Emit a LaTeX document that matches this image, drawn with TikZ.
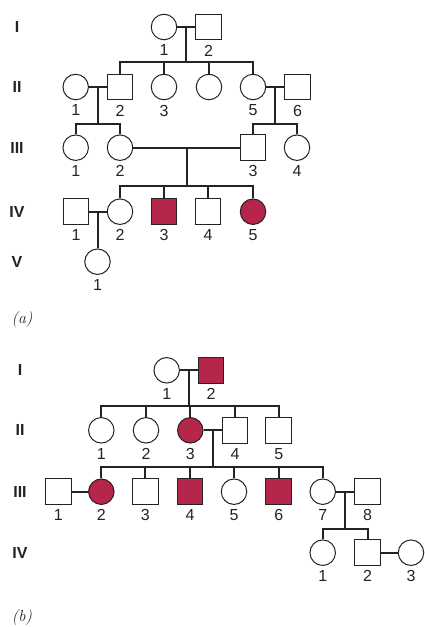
\documentclass[tikz,border=0pt]{standalone}
\usepackage{fontspec}
\setsansfont{Liberation Sans}
\usepackage{tikz}
\usetikzlibrary{calc}
\usetikzlibrary{positioning}
\definecolor{affect}{RGB}{181,38,74}
\definecolor{ink}{RGB}{38,34,35}
\begin{document}
\begin{tikzpicture}[x=1pt,y=-1pt,
  every node/.style={inner sep=0pt,text=ink,font=\sffamily\fontsize{16}{16}\selectfont},
  male/.style={draw=ink,rectangle,minimum size=25.5pt,line width=1pt,fill=white},
  female/.style={draw=ink,circle,minimum size=25.5pt,line width=1pt,fill=white},
  ill/.style={fill=affect},
  gen/.style={font=\sffamily\bfseries\fontsize{16}{16}\selectfont},
  num/.style={below=4.5pt of #1},
  panel/.style={font=\itshape\fontsize{16}{16}\selectfont},
  line/.style={draw=ink,line width=2pt}]

\useasboundingbox (0,0) rectangle (424,627);

% (a)
\draw node[gen] at (17,27) (gaI) {I};
\draw node[gen] at (17,87) (gaII) {II};
\draw node[gen] at (17,148) (gaIII) {III};
\draw node[gen] at (17,212) (gaIV) {IV};
\draw node[gen] at (17,262) (gaV) {V};

\draw node[female] at (164,27) (a11) {};
\draw node[male] at (208.5,27) (a12) {};

\draw node[female] at (75.7,87) (a21) {};
\draw node[male] at (120,87) (a22) {};
\draw node[female] at (164,87) (a23) {};
\draw node[female] at (209,87) (a24) {};
\draw node[female] at (253,87) (a25) {};
\draw node[male] at (297.5,87) (a26) {};

\draw node[female] at (75.7,147.7) (a31) {};
\draw node[female] at (120,147.7) (a32) {};
\draw node[male] at (253,147.7) (a33) {};
\draw node[female] at (297,147.7) (a34) {};

\draw node[male] at (76,211.7) (a41) {};
\draw node[female] at (120,211.7) (a42) {};
\draw node[male,ill] at (164,211.7) (a43) {};
\draw node[male] at (208,211.7) (a44) {};
\draw node[female,ill] at (253,211.7) (a45) {};

\draw node[female] at (97.5,261.7) (a51) {};

\draw node[num=a11] (la11) {1};
\draw node[num=a12] (la12) {2};
\draw node[num=a21] (la21) {1};
\draw node[num=a22] (la22) {2};
\draw node[num=a23] (la23) {3};
\draw node[num=a25] (la25) {5};
\draw node[num=a26] (la26) {6};
\draw node[num=a31] (la31) {1};
\draw node[num=a32] (la32) {2};
\draw node[num=a33] (la33) {3};
\draw node[num=a34] (la34) {4};
\draw node[num=a41] (la41) {1};
\draw node[num=a42] (la42) {2};
\draw node[num=a43] (la43) {3};
\draw node[num=a44] (la44) {4};
\draw node[num=a45] (la45) {5};
\draw node[num=a51] (la51) {1};

\coordinate (saI) at (0,62);
\coordinate (saII) at (0,124);
\coordinate (saIII) at (0,186);

\coordinate (ma1) at ($(a11.east)!.5!(a12.west)$);
\coordinate (ma2) at ($(a21.east)!.5!(a22.west)$);
\coordinate (ma3) at ($(a25.east)!.5!(a26.west)$);
\coordinate (ma4) at ($(a32.east)!.5!(a33.west)$);
\coordinate (ma5) at ($(a41.east)!.5!(a42.west)$);

\draw[line] (a11) -- (a12);
\draw[line] (a21) -- (a22);
\draw[line] (a25) -- (a26);
\draw[line] (a32) -- (a33);
\draw[line] (a41) -- (a42);

\draw[line] (ma1) -- (ma1 |- saI);
\draw[line] (a22.north) -- (a22.north |- saI) -- (a25.north |- saI) -- (a25.north);
\draw[line] (a23.north) -- (a23.north |- saI);
\draw[line] (a24.north) -- (a24.north |- saI);

\draw[line] (ma2) -- (ma2 |- saII);
\draw[line] (a31.north) -- (a31.north |- saII) -- (a32.north |- saII) -- (a32.north);
\draw[line] (ma3) -- (ma3 |- saII);
\draw[line] (a33.north) -- (a33.north |- saII) -- (a34.north |- saII) -- (a34.north);

\draw[line] (ma4) -- (ma4 |- saIII);
\draw[line] (a42.north) -- (a42.north |- saIII) -- (a45.north |- saIII) -- (a45.north);
\draw[line] (a43.north) -- (a43.north |- saIII);
\draw[line] (a44.north) -- (a44.north |- saIII);

\draw[line] (ma5) -- (ma5 |- a51.north);

\draw node[panel] at (22,320) (capa) {(a)};

% (b)
\draw node[gen] at (20,370) (gbI) {I};
\draw node[gen] at (20,430) (gbII) {II};
\draw node[gen] at (20,491.5) (gbIII) {III};
\draw node[gen] at (20,552.5) (gbIV) {IV};

\draw node[female] at (166.7,370.3) (b11) {};
\draw node[male,ill] at (211,370.3) (b12) {};

\draw node[female] at (101.3,430.3) (b21) {};
\draw node[female] at (146,430.3) (b22) {};
\draw node[female,ill] at (190.3,430.3) (b23) {};
\draw node[male] at (235,430.3) (b24) {};
\draw node[male] at (278.7,430.3) (b25) {};

\draw node[male] at (58.3,491.7) (b31) {};
\draw node[female,ill] at (101.3,491.7) (b32) {};
\draw node[male] at (145.3,491.7) (b33) {};
\draw node[male,ill] at (190,491.7) (b34) {};
\draw node[female] at (234,491.7) (b35) {};
\draw node[male,ill] at (278.7,491.7) (b36) {};
\draw node[female] at (322.7,491.7) (b37) {};
\draw node[male] at (367.5,491.7) (b38) {};

\draw node[female] at (322.7,552.7) (b41) {};
\draw node[male] at (367.5,552.7) (b42) {};
\draw node[female] at (411,552.7) (b43) {};

\draw node[num=b11] (lb11) {1};
\draw node[num=b12] (lb12) {2};
\draw node[num=b21] (lb21) {1};
\draw node[num=b22] (lb22) {2};
\draw node[num=b23] (lb23) {3};
\draw node[num=b24] (lb24) {4};
\draw node[num=b25] (lb25) {5};
\draw node[num=b31] (lb31) {1};
\draw node[num=b32] (lb32) {2};
\draw node[num=b33] (lb33) {3};
\draw node[num=b34] (lb34) {4};
\draw node[num=b35] (lb35) {5};
\draw node[num=b36] (lb36) {6};
\draw node[num=b37] (lb37) {7};
\draw node[num=b38] (lb38) {8};
\draw node[num=b41] (lb41) {1};
\draw node[num=b42] (lb42) {2};
\draw node[num=b43] (lb43) {3};

\coordinate (sbI) at (0,405.7);
\coordinate (sbII) at (0,466.7);
\coordinate (sbIII) at (0,529);

\coordinate (mb1) at ($(b11.east)!.5!(b12.west)$);
\coordinate (mb2) at ($(b23.east)!.5!(b24.west)$);
\coordinate (mb3) at ($(b37.east)!.5!(b38.west)$);

\draw[line] (b11) -- (b12);
\draw[line] (b23) -- (b24);
\draw[line] (b31) -- (b32);
\draw[line] (b37) -- (b38);
\draw[line] (b42) -- (b43);

\draw[line] (mb1) -- (mb1 |- sbI);
\draw[line] (b21.north) -- (b21.north |- sbI) -- (b25.north |- sbI) -- (b25.north);
\draw[line] (b22.north) -- (b22.north |- sbI);
\draw[line] (b23.north) -- (b23.north |- sbI);
\draw[line] (b24.north) -- (b24.north |- sbI);

\draw[line] (mb2) -- (mb2 |- sbII);
\draw[line] (b32.north) -- (b32.north |- sbII) -- (b37.north |- sbII) -- (b37.north);
\draw[line] (b33.north) -- (b33.north |- sbII);
\draw[line] (b34.north) -- (b34.north |- sbII);
\draw[line] (b35.north) -- (b35.north |- sbII);
\draw[line] (b36.north) -- (b36.north |- sbII);

\draw[line] (mb3) -- (mb3 |- sbIII);
\draw[line] (b41.north) -- (b41.north |- sbIII) -- (b42.north |- sbIII) -- (b42.north);

\draw node[panel] at (22,617.7) (capb) {(b)};

\end{tikzpicture}
\end{document}
